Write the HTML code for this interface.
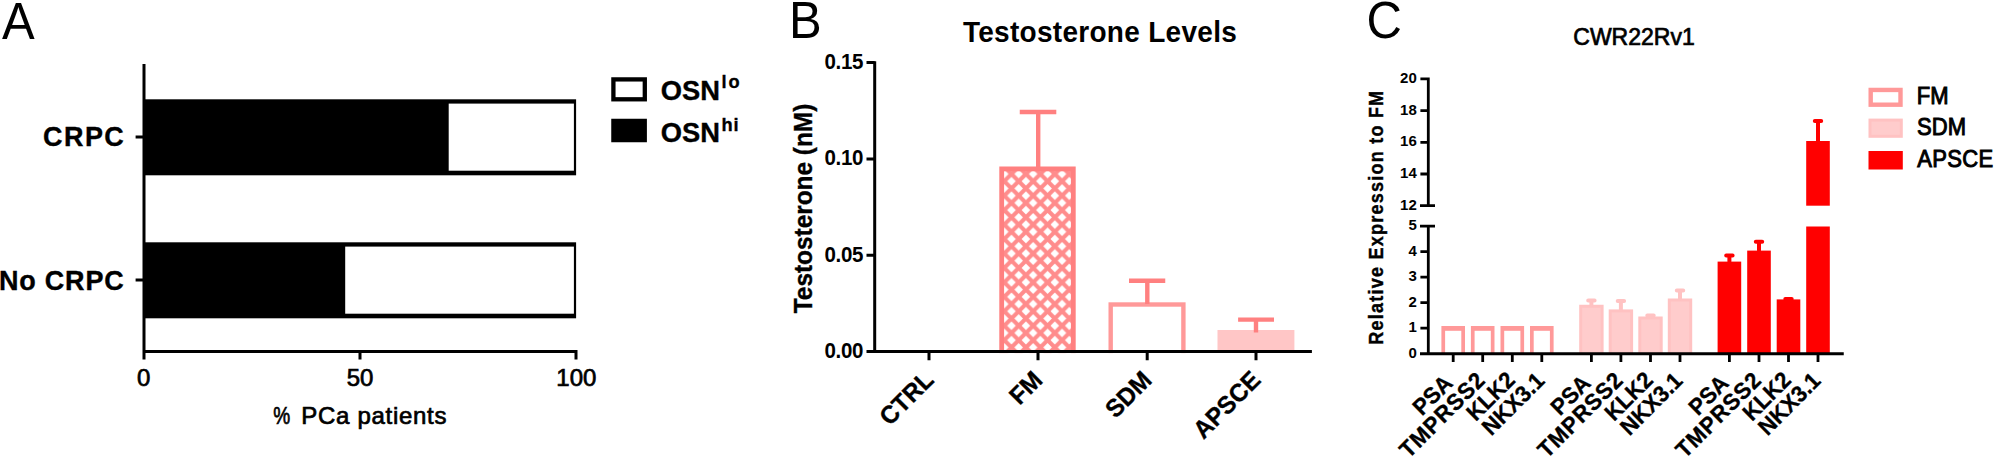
<!DOCTYPE html>
<html><head><meta charset="utf-8"><title>Figure</title>
<style>
html,body{margin:0;padding:0;background:#fff;}
svg{display:block;}
text{font-family:"Liberation Sans",sans-serif;fill:#000;}
.b{font-weight:bold;stroke:#000;stroke-width:0.35px;}
.bn{font-weight:bold;}
.r{stroke:#000;stroke-width:0.7px;}
.r2{stroke:#000;stroke-width:0.9px;}
.bb{font-weight:bold;stroke:#000;stroke-width:0.5px;}
</style></head><body>
<svg width="1995" height="456" viewBox="0 0 1995 456">
<rect width="1995" height="456" fill="#fff"/>
<defs>
<pattern id="hatch" patternUnits="userSpaceOnUse" width="14.45" height="14.45" x="1011.475" y="166.775">
<rect width="14.45" height="14.45" fill="#ff8c8c"/>
<path d="M7.225,2.925 L11.524999999999999,7.225 L7.225,11.524999999999999 L2.925,7.225 Z M0,-4.3 L4.3,0 L0,4.3 L-4.3,0 Z M14.45,-4.3 L18.75,0 L14.45,4.3 L10.149999999999999,0 Z M0,10.149999999999999 L4.3,14.45 L0,18.75 L-4.3,14.45 Z M14.45,10.149999999999999 L18.75,14.45 L14.45,18.75 L10.149999999999999,14.45 Z" fill="#fff"/>
</pattern>
</defs>

<g id="panelA">
<text transform="translate(2.00,39.00) scale(1,1.040)" font-size="49">A</text>
<rect x="144" y="99.3" width="432.1" height="76" fill="#000"/>
<rect x="448.7" y="103.6" width="125.2" height="67.1" fill="#fff"/>
<rect x="144" y="242.3" width="432.1" height="76" fill="#000"/>
<rect x="345.2" y="246.6" width="228.7" height="67.1" fill="#fff"/>
<path d="M144,64 V359.4 M142.5,351.4 H577.5 M360,351.4 V359.4 M576,351.4 V359.4 M135.6,137 H144 M135.6,280 H144" stroke="#000" stroke-width="3" fill="none"/>
<text transform="translate(125.20,146.30) scale(1,1.040)" font-size="27" text-anchor="end" class="b" letter-spacing="1.4">CRPC</text>
<text transform="translate(124.50,289.90) scale(1,1.040)" font-size="27" text-anchor="end" class="b" letter-spacing="0.8">No CRPC</text>
<text transform="translate(143.70,386.00)" font-size="24" text-anchor="middle" class="r">0</text>
<text transform="translate(360.00,386.00)" font-size="24" text-anchor="middle" class="r">50</text>
<text transform="translate(576.30,386.00)" font-size="24" text-anchor="middle" class="r">100</text>
<text transform="translate(0,423.6) scale(1,1.000)" font-size="24" class="r" letter-spacing="0.7"><tspan x="273.2" textLength="17.5" lengthAdjust="spacingAndGlyphs">%</tspan><tspan x="294"> PCa patients</tspan></text>
<rect x="613.4" y="79.4" width="31.4" height="19.9" fill="#fff" stroke="#000" stroke-width="4.3"/>
<rect x="611.25" y="118.75" width="35.65" height="23.5" fill="#000"/>
<text transform="translate(660.80,100.10) scale(1,1.040)" font-size="27.3" class="b">OSN<tspan dx="1.5" dy="-11.2" font-size="18.2" letter-spacing="1.9">lo</tspan></text>
<text transform="translate(660.80,142.25) scale(1,1.040)" font-size="27.3" class="b">OSN<tspan dx="1.5" dy="-10.6" font-size="18.2" letter-spacing="0.9">hi</tspan></text>
</g>
<g id="panelB">
<text transform="translate(789.00,37.50) scale(1,1.040)" font-size="49">B</text>
<text transform="translate(1100.00,42.40) scale(1,1.040)" font-size="28" text-anchor="middle" class="bn" letter-spacing="0.3">Testosterone Levels</text>
<text transform="translate(812.00,208.50) rotate(-90) scale(1,1.040)" font-size="24.4" text-anchor="middle" class="b">Testosterone (nM)</text>
<rect x="1001.7" y="168.9" width="71.6" height="190" fill="url(#hatch)" stroke="#ff8080" stroke-width="4.8"/>
<path d="M1038.2,168 V112 M1019.75,112 H1056.3" stroke="#ff8080" stroke-width="4.4" fill="none"/>
<rect x="1110.7" y="304.5" width="72.7" height="55" fill="#fff" stroke="#ff9999" stroke-width="4.4"/>
<path d="M1147.3,304 V280.7 M1129,280.7 H1165.25" stroke="#ff8080" stroke-width="4.4" fill="none"/>
<rect x="1217.5" y="330" width="76.9" height="22" fill="#ffc6c6"/>
<path d="M1256,332.5 V319.6 M1238.1,319.6 H1274" stroke="#ff8080" stroke-width="4.4" fill="none"/>
<rect x="990" y="353.1" width="320" height="10" fill="#fff"/>
<path d="M874.7,61.2 V353.1 M866.5,351.6 H1311.9 M866.5,62.5 H874.7 M866.5,158.9 H874.7 M866.5,255.2 H874.7 M929.0,351.6 V360.25 M1038.0,351.6 V360.25 M1147.2,351.6 V360.25 M1256.0,351.6 V360.25 " stroke="#000" stroke-width="3" fill="none"/>
<text transform="translate(863.10,69.00) scale(1,1.040)" font-size="20.5" text-anchor="end" class="bn" letter-spacing="-0.3">0.15</text>
<text transform="translate(863.10,165.40) scale(1,1.040)" font-size="20.5" text-anchor="end" class="bn" letter-spacing="-0.3">0.10</text>
<text transform="translate(863.10,261.70) scale(1,1.040)" font-size="20.5" text-anchor="end" class="bn" letter-spacing="-0.3">0.05</text>
<text transform="translate(863.10,358.10) scale(1,1.040)" font-size="20.5" text-anchor="end" class="bn" letter-spacing="-0.3">0.00</text>
<text transform="translate(935.00,381.50) rotate(-45) scale(1,1.040)" font-size="24" text-anchor="end" class="b">CTRL</text>
<text transform="translate(1044.00,381.50) rotate(-45) scale(1,1.040)" font-size="24" text-anchor="end" class="b">FM</text>
<text transform="translate(1153.20,381.50) rotate(-45) scale(1,1.040)" font-size="24" text-anchor="end" class="b">SDM</text>
<text transform="translate(1262.00,381.50) rotate(-45) scale(1,1.040)" font-size="24" text-anchor="end" class="b">APSCE</text>
</g>
<g id="panelC">
<text transform="translate(1366.50,38.00) scale(1,1.040)" font-size="49">C</text>
<text transform="translate(1634.00,45.00)" font-size="23" text-anchor="middle" class="r">CWR22Rv1</text>
<text transform="translate(1382.50,217.20) rotate(-90) scale(1,1.110)" font-size="18" text-anchor="middle" class="b" letter-spacing="1.25">Relative Expression to FM</text>
<rect x="1441.40" y="326" width="23.60" height="28" fill="#ff9999"/>
<rect x="1445.10" y="330.8" width="16.20" height="24" fill="#fff"/>
<rect x="1470.90" y="326" width="23.60" height="28" fill="#ff9999"/>
<rect x="1474.60" y="330.8" width="16.20" height="24" fill="#fff"/>
<rect x="1500.50" y="326" width="23.60" height="28" fill="#ff9999"/>
<rect x="1504.20" y="330.8" width="16.20" height="24" fill="#fff"/>
<rect x="1530.00" y="326" width="23.60" height="28" fill="#ff9999"/>
<rect x="1533.70" y="330.8" width="16.20" height="24" fill="#fff"/>
<rect x="1579.20" y="304.75" width="24.40" height="49.00" fill="#ffc2c2"/>
<rect x="1582.20" y="307.75" width="18.40" height="46.00" fill="#ffcccc"/>
<path d="M1591.40,304.75 V300.50 M1588.20,300.50 H1594.60" stroke="#ffc2c2" stroke-width="4" stroke-linecap="round" fill="none"/>
<rect x="1608.70" y="309.40" width="24.40" height="44.35" fill="#ffc2c2"/>
<rect x="1611.70" y="312.40" width="18.40" height="41.35" fill="#ffcccc"/>
<path d="M1620.90,309.40 V301.00 M1617.70,301.00 H1624.10" stroke="#ffc2c2" stroke-width="4" stroke-linecap="round" fill="none"/>
<rect x="1638.30" y="316.50" width="24.40" height="37.25" fill="#ffc2c2"/>
<rect x="1641.30" y="319.50" width="18.40" height="34.25" fill="#ffcccc"/>
<path d="M1650.50,316.50 V315.50 M1647.30,315.50 H1653.70" stroke="#ffc2c2" stroke-width="4" stroke-linecap="round" fill="none"/>
<rect x="1667.80" y="298.50" width="24.40" height="55.25" fill="#ffc2c2"/>
<rect x="1670.80" y="301.50" width="18.40" height="52.25" fill="#ffcccc"/>
<path d="M1680.00,298.50 V290.50 M1676.80,290.50 H1683.20" stroke="#ffc2c2" stroke-width="4" stroke-linecap="round" fill="none"/>
<rect x="1717.60" y="261.60" width="23.60" height="92.15" fill="#ff0000"/>
<path d="M1729.40,261.60 V255.60 M1726.20,255.60 H1732.60" stroke="#ff0000" stroke-width="4" stroke-linecap="round" fill="none"/>
<rect x="1747.20" y="250.60" width="23.60" height="103.15" fill="#ff0000"/>
<path d="M1759.00,250.60 V241.85 M1755.80,241.85 H1762.20" stroke="#ff0000" stroke-width="4" stroke-linecap="round" fill="none"/>
<rect x="1776.70" y="299.40" width="23.60" height="54.35" fill="#ff0000"/>
<path d="M1788.50,299.40 V299.00 M1785.30,299.00 H1791.70" stroke="#ff0000" stroke-width="4" stroke-linecap="round" fill="none"/>
<rect x="1806.20" y="226.5" width="23.60" height="127.25" fill="#ff0000"/>
<rect x="1806.20" y="141" width="23.60" height="64.70" fill="#ff0000"/>
<path d="M1818.00,142 V120.9 M1814.80,120.9 H1821.20" stroke="#ff0000" stroke-width="4" stroke-linecap="round" fill="none"/>
<path d="M1428.3,77.5 V205.7 M1420,205.7 H1435 M1428.3,226.1 V355.25 M1420,226.1 H1435 M1420,353.75 H1843.75 M1420.4,78.9 H1429.6 M1420.4,110.6 H1429.6 M1420.4,142.3 H1429.6 M1420.4,174.0 H1429.6 M1420.4,251.6 H1428.3 M1420.4,277.2 H1428.3 M1420.4,302.7 H1428.3 M1420.4,328.2 H1428.3 M1453.2,353.75 V361.9 M1482.7,353.75 V361.9 M1512.3,353.75 V361.9 M1541.8,353.75 V361.9 M1591.4,353.75 V361.9 M1620.9,353.75 V361.9 M1650.5,353.75 V361.9 M1680.0,353.75 V361.9 M1729.4,353.75 V361.9 M1759.0,353.75 V361.9 M1788.5,353.75 V361.9 M1818.0,353.75 V361.9 " stroke="#000" stroke-width="2.8" fill="none"/>
<text transform="translate(1416.80,83.00) scale(1,1.020)" font-size="15" text-anchor="end" class="bn">20</text>
<text transform="translate(1416.80,114.70) scale(1,1.020)" font-size="15" text-anchor="end" class="bn">18</text>
<text transform="translate(1416.80,146.40) scale(1,1.020)" font-size="15" text-anchor="end" class="bn">16</text>
<text transform="translate(1416.80,178.10) scale(1,1.020)" font-size="15" text-anchor="end" class="bn">14</text>
<text transform="translate(1416.80,209.80) scale(1,1.020)" font-size="15" text-anchor="end" class="bn">12</text>
<text transform="translate(1416.80,230.10) scale(1,1.020)" font-size="15" text-anchor="end" class="bn">5</text>
<text transform="translate(1416.80,255.63) scale(1,1.020)" font-size="15" text-anchor="end" class="bn">4</text>
<text transform="translate(1416.80,281.16) scale(1,1.020)" font-size="15" text-anchor="end" class="bn">3</text>
<text transform="translate(1416.80,306.69) scale(1,1.020)" font-size="15" text-anchor="end" class="bn">2</text>
<text transform="translate(1416.80,332.22) scale(1,1.020)" font-size="15" text-anchor="end" class="bn">1</text>
<text transform="translate(1416.80,357.75) scale(1,1.020)" font-size="15" text-anchor="end" class="bn">0</text>
<text transform="translate(1453.90,384.50) rotate(-45) scale(1,1.040)" font-size="22" text-anchor="end" class="b">PSA</text>
<text transform="translate(1486.70,381.20) rotate(-45) scale(1,1.040)" font-size="22" text-anchor="end" class="b" letter-spacing="0.9">TMPRSS2</text>
<text transform="translate(1516.30,381.30) rotate(-45) scale(1,1.040)" font-size="22" text-anchor="end" class="b">KLK2</text>
<text transform="translate(1545.80,382.00) rotate(-45) scale(1,1.040)" font-size="22" text-anchor="end" class="b">NKX3.1</text>
<text transform="translate(1592.10,384.50) rotate(-45) scale(1,1.040)" font-size="22" text-anchor="end" class="b">PSA</text>
<text transform="translate(1624.90,381.20) rotate(-45) scale(1,1.040)" font-size="22" text-anchor="end" class="b" letter-spacing="0.9">TMPRSS2</text>
<text transform="translate(1654.50,381.30) rotate(-45) scale(1,1.040)" font-size="22" text-anchor="end" class="b">KLK2</text>
<text transform="translate(1684.00,382.00) rotate(-45) scale(1,1.040)" font-size="22" text-anchor="end" class="b">NKX3.1</text>
<text transform="translate(1730.10,384.50) rotate(-45) scale(1,1.040)" font-size="22" text-anchor="end" class="b">PSA</text>
<text transform="translate(1763.00,381.20) rotate(-45) scale(1,1.040)" font-size="22" text-anchor="end" class="b" letter-spacing="0.9">TMPRSS2</text>
<text transform="translate(1792.50,381.30) rotate(-45) scale(1,1.040)" font-size="22" text-anchor="end" class="b">KLK2</text>
<text transform="translate(1822.00,382.00) rotate(-45) scale(1,1.040)" font-size="22" text-anchor="end" class="b">NKX3.1</text>
<rect x="1870.7" y="89.95" width="29.8" height="14.75" fill="#fff" stroke="#ff9999" stroke-width="4.4"/>
<rect x="1870" y="120.1" width="31.3" height="16.2" fill="#ffcccc" stroke="#ffc2c2" stroke-width="3"/>
<rect x="1868.5" y="151" width="34.3" height="18.5" fill="#ff0000"/>
<text transform="translate(1916.70,104.00) scale(1,1.090)" font-size="22" class="r2">FM</text>
<text transform="translate(1917.10,135.20) scale(1,1.090)" font-size="22" class="r2">SDM</text>
<text transform="translate(1917.30,167.00) scale(1,1.090)" font-size="22" class="r2" letter-spacing="0.3">APSCE</text>
</g>
</svg></body></html>
